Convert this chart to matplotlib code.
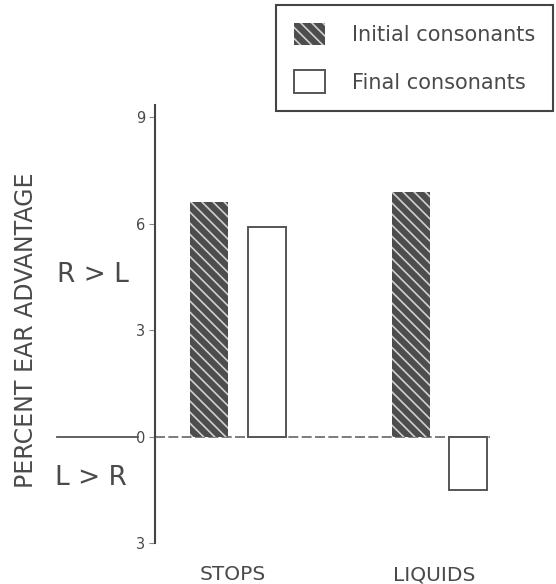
import matplotlib
matplotlib.use("Agg")
import matplotlib.pyplot as plt
import numpy as np

categories = ["STOPS", "LIQUIDS"]
initial_vals = [6.62, 6.9]
final_vals = [5.9, -1.5]
series_labels = ["Initial consonants", "Final consonants"]
ytick_vals = [-3, 0, 3, 6, 9]
ytick_labels = ["3", "0", "3", "6", "9"]

plt.rcParams["hatch.linewidth"] = 1.2
txt = "#4a4a4a"

fig = plt.figure(figsize=(5.56, 5.84), dpi=100)
ax = fig.add_axes([155/556, (584-543)/584, (500-155)/556, (543-105)/584])

x = np.arange(len(categories))
w = 0.188
off = 0.1425
b1 = ax.bar(x - off, initial_vals, w, facecolor="#4d4d4d", edgecolor="#d0d0d0",
            linewidth=0, hatch="\\\\\\", label=series_labels[0])
b2 = ax.bar(x + off, final_vals, w, facecolor="white", edgecolor="#555555",
            linewidth=1.4, label=series_labels[1])

ax.set_xlim(-0.411, 1.299)
ax.set_ylim(-3, 9.35)

# zero line extending left of the axis
ax.plot([-0.897, -0.496], [0, 0], color="#555555", lw=1.3, clip_on=False)
ax.plot([-0.411, 1.249], [0, 0], color="#666666", lw=1.2, ls=(0, (6, 2)),
        clip_on=False, zorder=0)

for s in ["top", "right", "bottom"]:
    ax.spines[s].set_visible(False)
ax.spines["left"].set_color("#444444")
ax.spines["left"].set_linewidth(1.5)
ax.set_xticks([])
ax.set_yticks(ytick_vals)
ax.set_yticklabels(ytick_labels, fontsize=10.5, color=txt)
ax.tick_params(axis="y", length=4, width=0.8, color="#888888", pad=3)

for xi, c in zip(x, categories):
    ax.text(xi - 0.025, -3.9, c, ha="center", va="center", fontsize=14.5, color=txt)

fig.text(26/556, 1-330/584, "PERCENT EAR ADVANTAGE", rotation=90, ha="center",
         va="center", fontsize=17, color=txt)
fig.text(93/556, 1-275/584, "R > L", ha="center", va="center", fontsize=19, color=txt)
fig.text(91/556, 1-478/584, "L > R", ha="center", va="center", fontsize=19, color=txt)

leg = fig.legend(handles=[b1, b2], loc="upper right",
                 bbox_to_anchor=(553/556, 1-5/584), borderaxespad=0, fontsize=15,
                 handlelength=1.5, handleheight=1.3, labelspacing=1.2,
                 borderpad=0.85, handletextpad=1.3, fancybox=False,
                 edgecolor="#444444", framealpha=1)
leg.get_frame().set_linewidth(1.5)
for t in leg.get_texts():
    t.set_color(txt)

fig.savefig("out.png", dpi=100)
